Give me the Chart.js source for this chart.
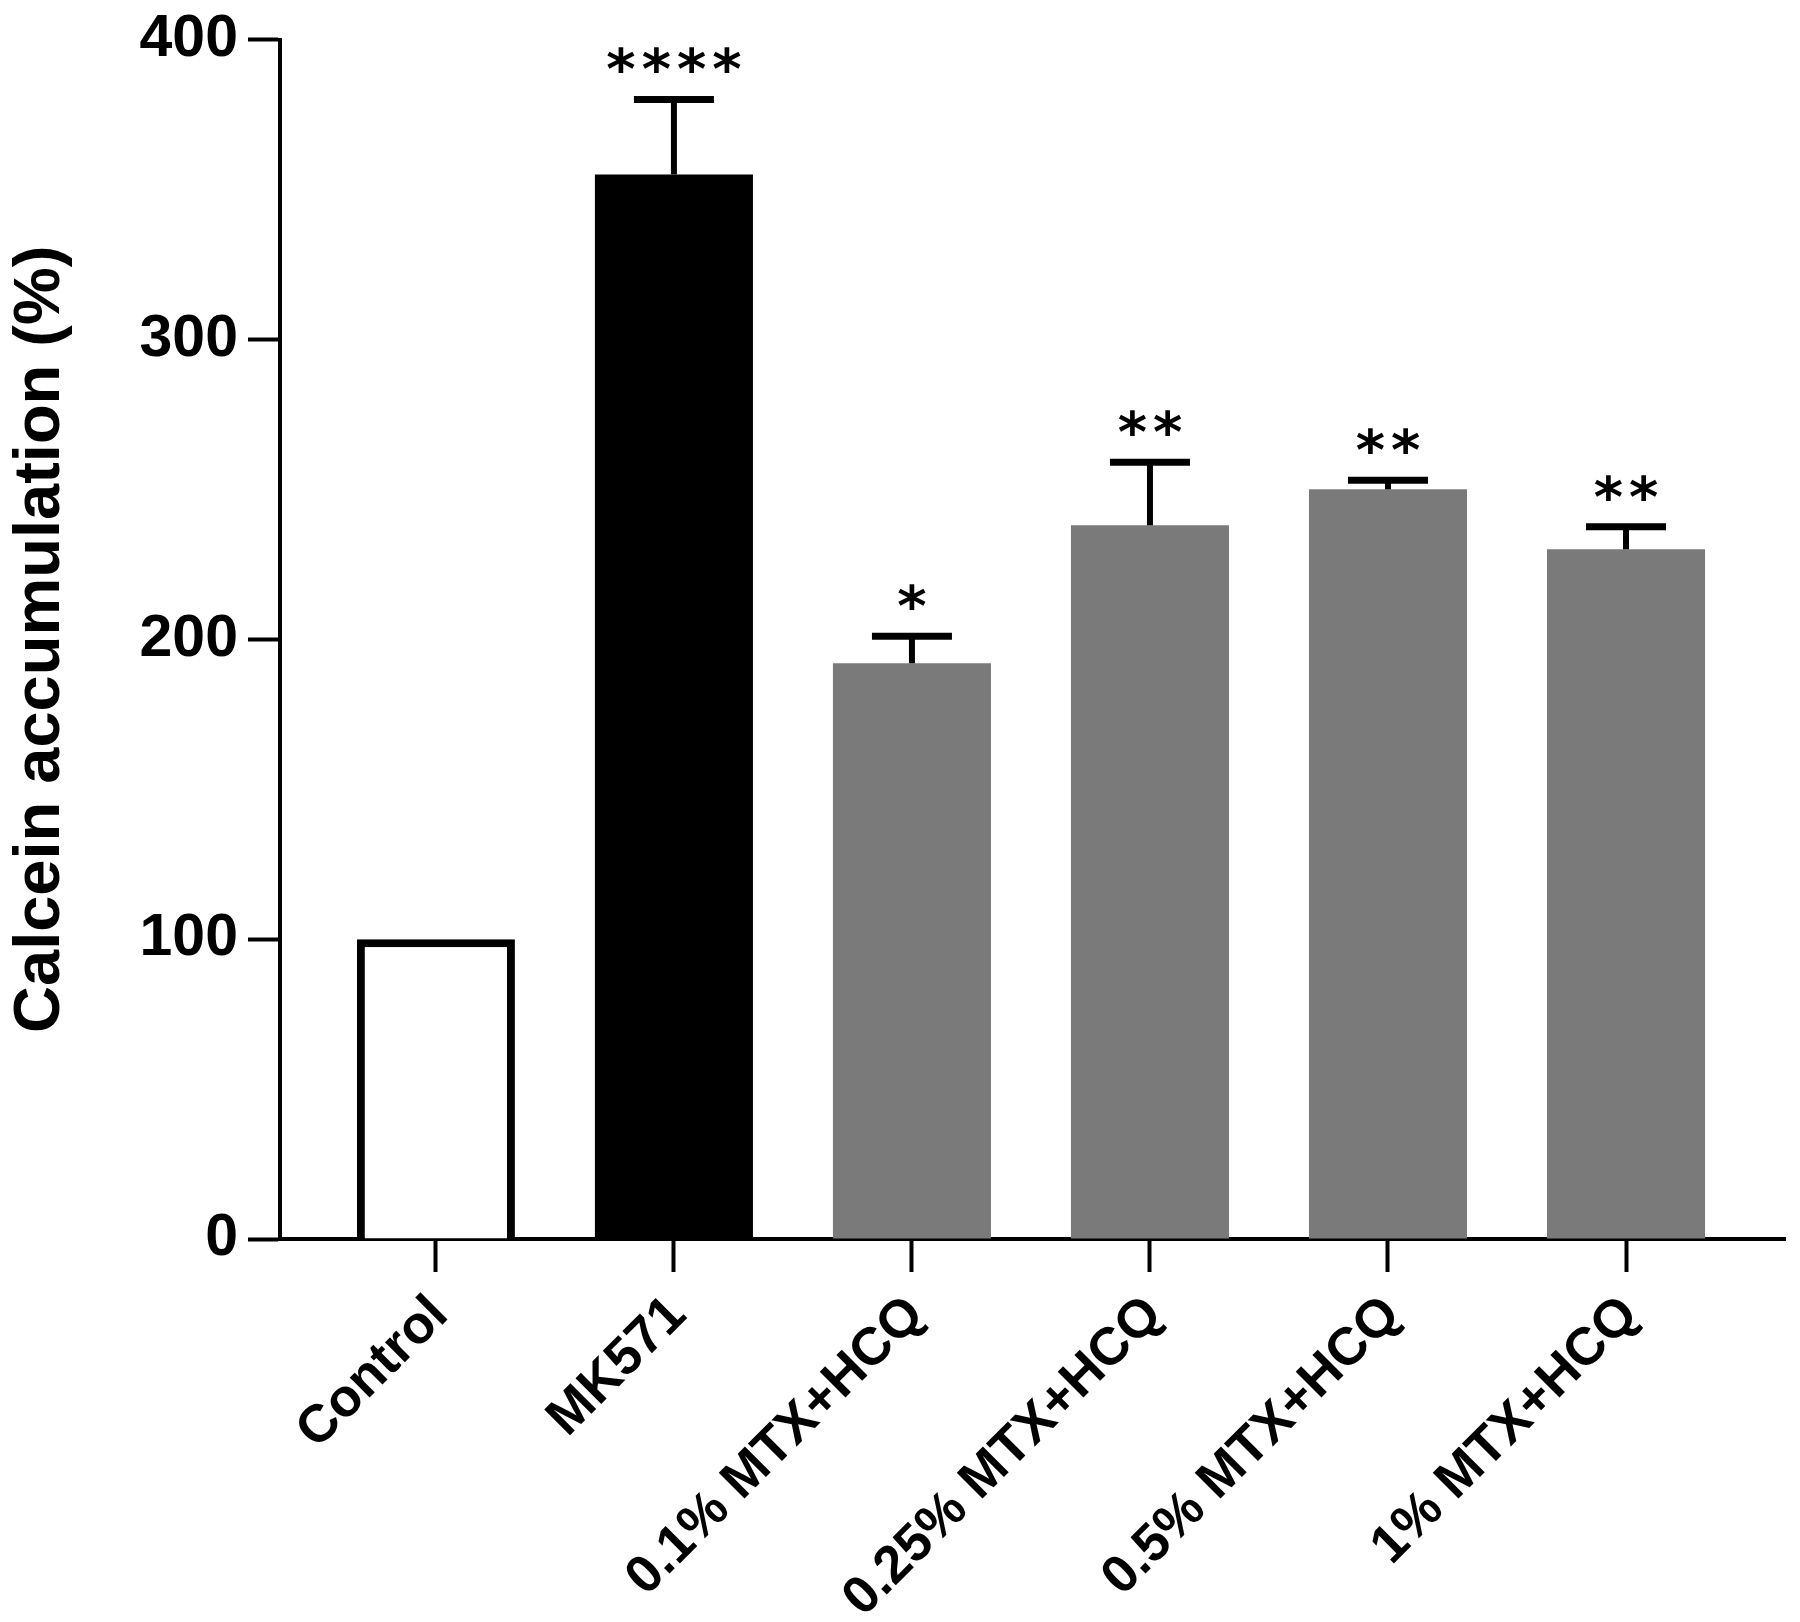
<!DOCTYPE html>
<html>
<head>
<meta charset="utf-8">
<script src="https://cdn.jsdelivr.net/npm/chart.js@4"></script>
<style>
html, body { margin: 0; padding: 0; background: #fff; }
#wrap { width: 1800px; height: 1622px; }
</style>
</head>
<body>
<div id="wrap"><canvas id="chart"></canvas></div>
<script>
const groups = ["Control", "MK571", "0.1% MTX+HCQ", "0.25% MTX+HCQ", "0.5% MTX+HCQ", "1% MTX+HCQ"];
const means = [100, 355, 192, 238, 250, 230];
const errors = [0, 25, 9, 21, 3, 7.5];
const stars = ["", "****", "*", "**", "**", "**"];
const yTicks = [0, 100, 200, 300, 400];

const FONT = "Liberation Sans";

// upper-only SD whiskers + significance stars
const errorBars = {
	id: "errorBars",
	afterDatasetsDraw(chart) {
		const { ctx, scales: { x, y } } = chart;
		ctx.save();
		ctx.strokeStyle = "#000";
		ctx.fillStyle = "#000";
		ctx.font = "bold 56px 'DejaVu Sans'";
		ctx.letterSpacing = "6px";
		ctx.textAlign = "center";
		ctx.textBaseline = "alphabetic";
		means.forEach((m, i) => {
			const cx = x.getPixelForValue(i);
			const top = y.getPixelForValue(m + errors[i]);
			if (errors[i] > 0) {
				ctx.lineWidth = 6;
				ctx.beginPath();
				ctx.moveTo(cx, y.getPixelForValue(m));
				ctx.lineTo(cx, top);
				ctx.stroke();
				ctx.lineWidth = 7;
				ctx.beginPath();
				ctx.moveTo(cx - 40, top);
				ctx.lineTo(cx + 40, top);
				ctx.stroke();
			}
			if (stars[i]) {
				const mt = ctx.measureText(stars[i]);
				ctx.fillText(stars[i], cx + 3, top - 26 - mt.actualBoundingBoxDescent);
			}
		});
		ctx.restore();
	},
};

new Chart(document.getElementById("chart"), {
	type: "bar",
	data: {
		datasets: [
			{
				data: groups.map((g, i) => ({ x: i, y: means[i] })),
				backgroundColor: ["#ffffff", "#000000", "#7a7a7a", "#7a7a7a", "#7a7a7a", "#7a7a7a"],
				borderColor: "#000",
				borderWidth: [8, 0, 0, 0, 0, 0],
				borderSkipped: "bottom",
				barPercentage: 0.664,
				categoryPercentage: 1,
			},
		],
	},
	options: {
		responsive: true,
		maintainAspectRatio: false,
		animation: false,
		layout: { padding: { top: 35, right: 15, left: 0, bottom: 0 } },
		plugins: { legend: { display: false }, tooltip: { enabled: false } },
		scales: {
			x: {
				type: "linear",
				offset: false,
				min: -0.655,
				max: 5.668,
				afterBuildTicks: (s) => {
					s.ticks = groups.map((g, i) => ({ value: i }));
				},
				afterFit: (s) => {
					s.height = 383;
				},
				grid: { offset: false, drawOnChartArea: false, tickLength: 33, tickWidth: 4, color: "#000" },
				border: { color: "#000", width: 4 },
				ticks: {
					autoSkip: false,
					minRotation: 45,
					maxRotation: 45,
					padding: 12,
					labelOffset: 4,
					color: "#000",
					font: { family: FONT, weight: "bold", size: 53 },
					callback: (v) => groups[v],
				},
			},
			y: {
				min: 0,
				max: 400,
				afterBuildTicks: (s) => {
					s.ticks = yTicks.map((v) => ({ value: v }));
				},
				afterFit: (s) => {
					s.width = 280;
				},
				grid: { drawOnChartArea: false, tickLength: 32, tickWidth: 4, color: "#000" },
				border: { color: "#000", width: 4 },
				ticks: {
					padding: 10,
					color: "#000",
					font: { family: FONT, weight: "bold", size: 59, lineHeight: 1 },
				},
				title: {
					display: true,
					text: "Calcein accumulation (%)",
					color: "#000",
					padding: { top: 2, bottom: 0 },
					font: { family: FONT, weight: "bold", size: 65 },
				},
			},
		},
	},
	plugins: [errorBars],
});
</script>
</body>
</html>
